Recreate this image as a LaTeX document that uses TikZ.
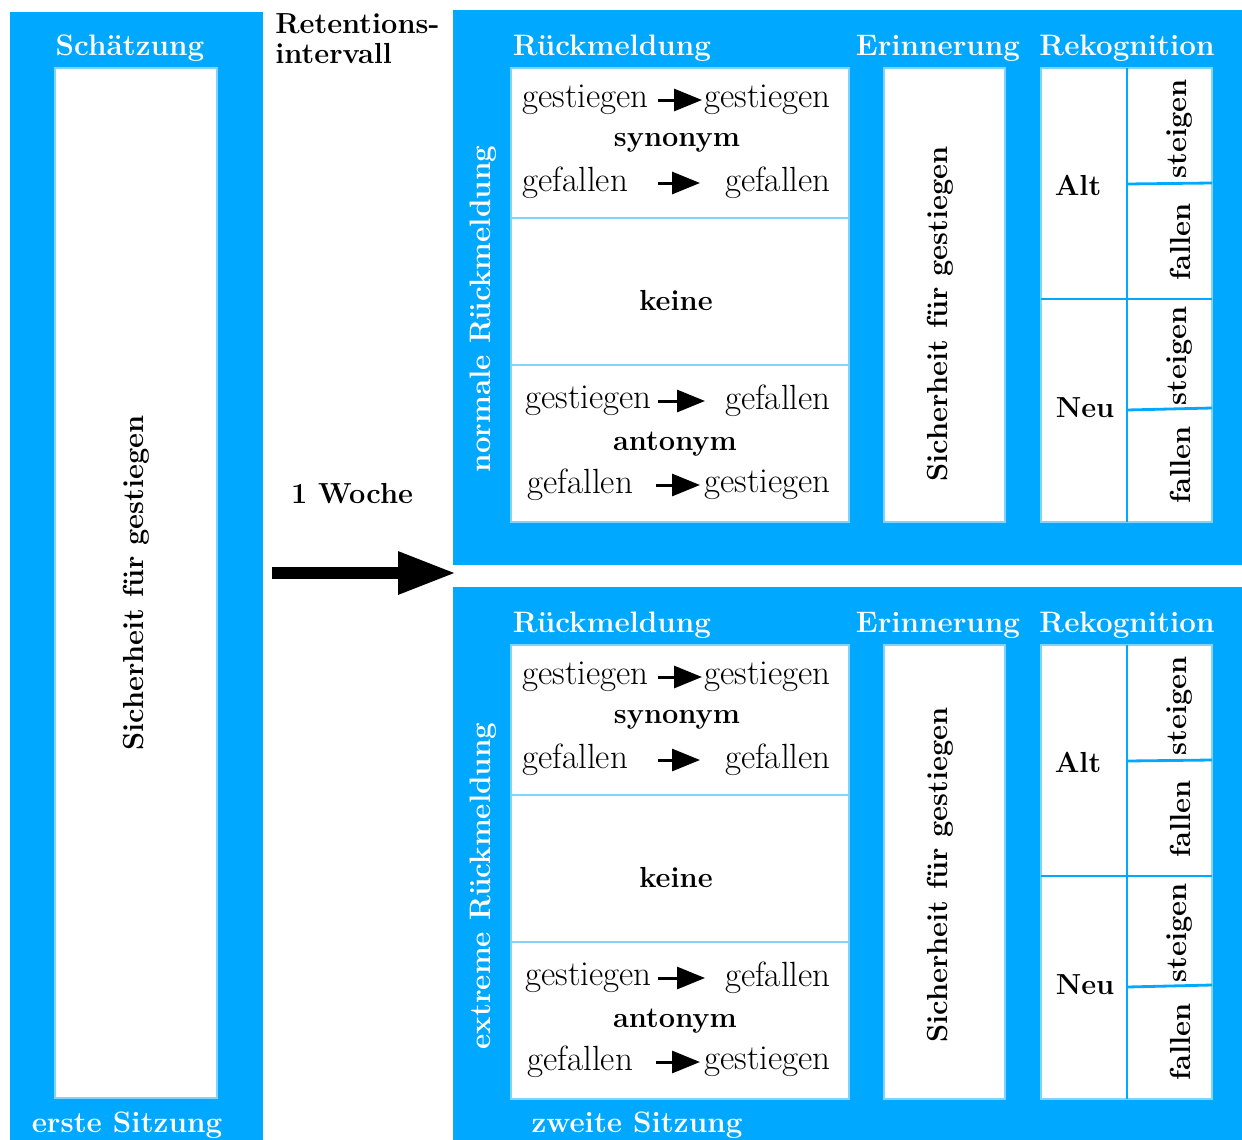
\documentclass[tikz,border=0pt]{standalone}
\usetikzlibrary{arrows.meta}
\definecolor{panelblue}{HTML}{00A8FF}
\definecolor{edgeblue}{HTML}{80D4FF}

\begin{document}
\begin{tikzpicture}[x=0.5pt, y=-0.5pt,
  panel/.style={fill=panelblue, draw=none},
  field/.style={fill=white, draw=edgeblue, line width=0.6pt},
  title/.style={text=white, font=\fontsize{14.8}{16}\selectfont\bfseries, inner sep=0pt},
  bold/.style={font=\fontsize{14.5}{16}\selectfont\bfseries, inner sep=0pt},
  word/.style={font=\fontsize{17.5}{19}\selectfont, inner sep=0pt},
  split/.style={draw=panelblue, line width=1.4pt},
  tarrow/.style={-{Triangle[length=14pt, width=11pt]}, line width=1.5pt},
  bigarrow/.style={-{Triangle[length=29pt, width=20pt]}, line width=6pt}]
  \useasboundingbox (0,0) rectangle (1242,1140);

  % erste Sitzung
  \fill[panel] (10,12) rectangle (263,1142);
  \draw[field] (55,68) rectangle (217,1098);
  \node[title] (est) at (130,48) {Schätzung};
  \node[bold, rotate=90] (estsich) at (136,583) {Sicherheit für gestiegen};
  \node[title] (erste) at (127,1125) {erste Sitzung};

  % Retentionsintervall
  \node[bold, font=\fontsize{14.5}{15}\selectfont\bfseries, anchor=north west, align=left]
    (ret) at (275,13) {Retentions-\\intervall};
  \node[bold] (woche) at (352,494) {1 Woche};
  \coordinate (pfeilA) at (272,573);
  \coordinate (pfeilB) at (456,573);
  \draw[bigarrow] (pfeilA) -- (pfeilB);

  % zweite Sitzung: zwei Bedingungen
  \foreach \p/\dy/\side/\ey in {1/0/normale Rückmeldung/314, 2/577/extreme Rückmeldung/298} {
    \begin{scope}[shift={(0,\dy)}]
      \fill[panel] (453,10) rectangle (1242,565);
      \node[title] (rm\p) at (612,48) {Rückmeldung};
      \node[title] (er\p) at (938,48) {Erinnerung};
      \node[title] (rk\p) at (1127,48) {Rekognition};
      \node[title, rotate=90] (bed\p) at (483,309) {\side};

      % Rueckmeldung
      \draw[field] (511,68) rectangle (849,218);
      \draw[field] (511,218) rectangle (849,365);
      \draw[field] (511,365) rectangle (849,522);
      \node[bold] (syn\p) at (677,143) {synonym};
      \node[bold] (kein\p) at (676,301) {keine};
      \node[bold] (ant\p) at (675,444) {antonym};
      \foreach \i/\y/\lx/\l/\r/\as/\ae in {1/100/522/gestiegen/gestiegen/658/702,
          2/183/522/gefallen/gefallen/658/700,
          3/401/525/gestiegen/gefallen/658/705,
          4/485/527/gefallen/gestiegen/656/700} {
        \node[word, anchor=west] (lw\p\i) at (\lx,\y) {\l};
        \node[word, anchor=east] (rw\p\i) at (831,\y) {\r};
        \coordinate (as\p\i) at (\as,\y);
        \coordinate (ae\p\i) at (\ae,\y);
        \draw[tarrow] (as\p\i) -- (ae\p\i);
      }

      % Erinnerung
      \draw[field] (884,68) rectangle (1005,522);
      \node[bold, rotate=90] (sich\p) at (940,\ey) {Sicherheit für gestiegen};

      % Rekognition
      \draw[field] (1041,68) rectangle (1212,522);
      \draw[split] (1127,68) -- (1127,522);
      \draw[split] (1041,299) -- (1212,299);
      \draw[split] (1127,184) -- (1212,183);
      \draw[split] (1127,410) -- (1212,408);
      \node[bold] (alt\p) at (1078,185) {Alt};
      \node[bold] (neu\p) at (1085,408) {Neu};
      \node[bold, rotate=90] (as\p) at (1180,129) {steigen};
      \node[bold, rotate=90] (af\p) at (1180,242) {fallen};
      \node[bold, rotate=90] (ns\p) at (1180,356) {steigen};
      \node[bold, rotate=90] (nf\p) at (1180,465) {fallen};
    \end{scope}
  }
  \node[title] (zweite) at (637,1125) {zweite Sitzung};
\end{tikzpicture}
\end{document}
